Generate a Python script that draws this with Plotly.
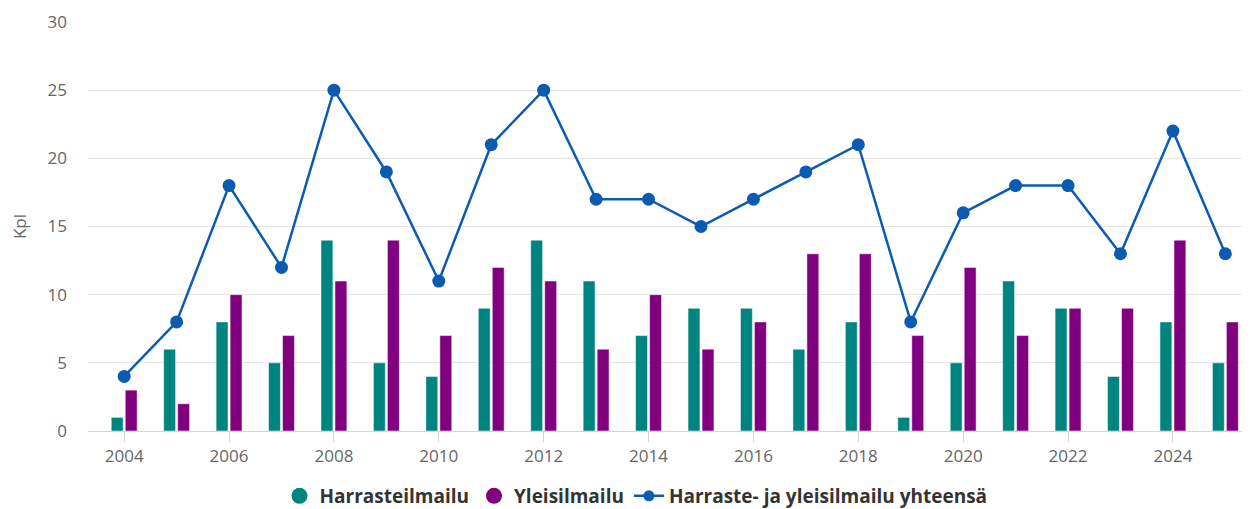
import plotly.graph_objects as go

years = list(range(2004, 2026))
harraste = [1, 6, 8, 5, 14, 5, 4, 9, 14, 11, 7, 9, 9, 6, 8, 1, 5, 11, 9, 4, 8, 5]
yleis = [3, 2, 10, 7, 11, 14, 7, 12, 11, 6, 10, 6, 8, 13, 13, 7, 12, 7, 9, 9, 14, 8]
yhteensa = [4, 8, 18, 12, 25, 19, 11, 21, 25, 17, 17, 15, 17, 19, 21, 8, 16, 18, 18, 13, 22, 13]

names = ["Harrasteilmailu", "Yleisilmailu", "Harraste- ja yleisilmailu yhteensä"]
c_teal = "#00847F"
c_purple = "#800080"
c_blue = "#0B5CB0"

FONT = "Open Sans"

fig = go.Figure()
fig.add_trace(go.Bar(x=years, y=harraste, name=names[0], marker=dict(color=c_teal, line=dict(width=0.5, color="white")),
                     showlegend=False))
fig.add_trace(go.Bar(x=years, y=yleis, name=names[1], marker=dict(color=c_purple, line=dict(width=0.5, color="white")),
                     showlegend=False))
fig.add_trace(go.Scatter(x=years, y=yhteensa, name=names[2], mode="lines+markers",
                         line=dict(color=c_blue, width=2.5),
                         marker=dict(color=c_blue, size=13), showlegend=False))
# legend entries (circle symbols like the reference)
fig.add_trace(go.Scatter(x=[None], y=[None], mode="markers", name=names[0],
                         marker=dict(color=c_teal, size=16)))
fig.add_trace(go.Scatter(x=[None], y=[None], mode="markers", name=names[1],
                         marker=dict(color=c_purple, size=16)))
fig.add_trace(go.Scatter(x=[None], y=[None], mode="lines+markers", name=names[2],
                         line=dict(color=c_blue, width=2.5), marker=dict(color=c_blue, size=11)))

fig.update_layout(
    width=1242, height=501,
    margin=dict(l=80, r=0, t=14, b=78),
    paper_bgcolor="white", plot_bgcolor="white",
    font=dict(family=FONT, size=17, color="#666666"),
    barmode="group", bargap=0.466, bargroupgap=0.15,
    legend=dict(orientation="h", x=0.4716, xanchor="center",
                yref="container", y=0.026, yanchor="middle",
                font=dict(family=FONT, size=19, color="#333333", weight="bold"),
                itemsizing="trace", tracegroupgap=0, itemwidth=30),
    xaxis=dict(range=[2003.31, 2025.47], tickmode="linear", tick0=2004, dtick=2,
               showgrid=False, showline=True, linecolor="#ccd6eb", linewidth=1,
               ticks="outside", ticklen=10, tickcolor="#ccd6eb", tickwidth=1,
               tickfont=dict(family=FONT, size=17, color="#666666"), zeroline=False),
    yaxis=dict(range=[0, 30], tickmode="linear", tick0=0, dtick=5,
               showgrid=True, gridcolor="#e6e6e6", gridwidth=1, zeroline=False,
               showline=False, ticks="", ticklabelstandoff=20,
               tickfont=dict(family=FONT, size=17, color="#666666"),
               title=dict(text="Kpl", font=dict(family=FONT, size=17, color="#666666"), standoff=18)),
)

fig.write_html("out.html")
